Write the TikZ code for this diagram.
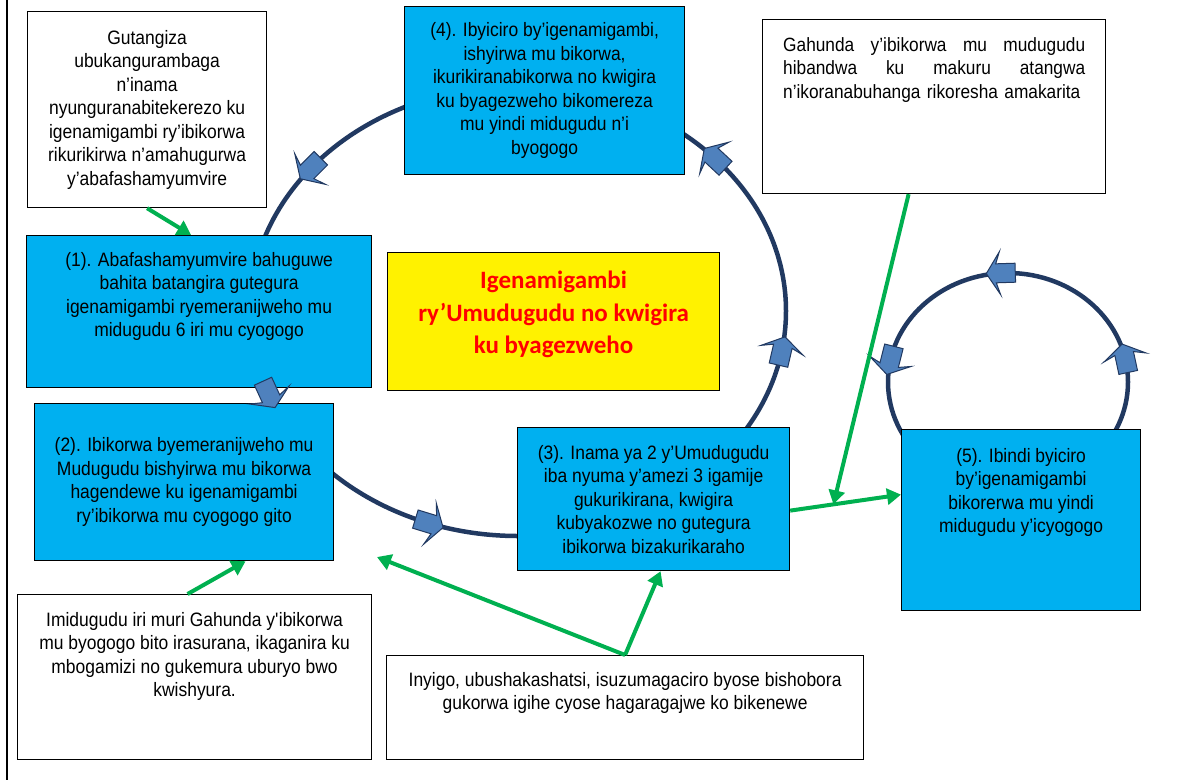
\documentclass[tikz,border=0pt]{standalone}
\usepackage{fontspec}
\setmainfont{Liberation Sans}[FakeStretch=0.9]
\newfontfamily\titlefont{Carlito}
\usepackage{tikz}
\usetikzlibrary{shapes.arrows, arrows.meta, calc}

\definecolor{boxblue}{RGB}{0,176,240}
\definecolor{ringnavy}{RGB}{33,57,97}
\definecolor{arrowfill}{RGB}{79,129,189}
\definecolor{linkgreen}{RGB}{0,176,80}
\definecolor{titlered}{RGB}{255,0,0}

\begin{document}
\begin{tikzpicture}[
            x=1pt, y=-1pt,
            box/.style={draw=black, line width=1.2pt, anchor=north west, inner sep=0pt},
            bluebox/.style={box, fill=boxblue},
            whitebox/.style={box, fill=white},
            txt/.style={align=center, inner sep=0pt, font=\fontsize{19.4}{23.5}\selectfont},
            ringline/.style={draw=ringnavy, line width=4.5pt},
            ringarrow/.style={single arrow, draw=ringnavy, fill=arrowfill, line width=1pt,
                minimum height=29pt, minimum width=42pt, single arrow head extend=12pt,
                single arrow tip angle=115, single arrow head indent=4pt,
                inner xsep=0pt, inner ysep=9pt},
            link/.style={draw=linkgreen, line width=4pt, -{Triangle[length=14pt,width=16pt]}}
        ]
            \useasboundingbox (0,0) rectangle (1178,780);

            % Rings
            \draw[ringline] (518,311) ellipse [x radius=268, y radius=225];
            \draw[ringline] (1008,382) ellipse [x radius=120, y radius=109];

            % Side boxes
            \node[whitebox, txt, minimum width=239, minimum height=196] (bA) at (27,11)
                {Gutangiza\\ubukangurambaga\\n’inama\\nyunguranabitekerezo ku\\igenamigambi ry’ibikorwa\\rikurikirwa n’amahugurwa\\y’abafashamyumvire};

            \node[whitebox, minimum width=343, minimum height=174] (bG) at (762,19) {};
            \node[anchor=north west, align=left, text width=302pt, inner sep=0pt,
                  font=\fontsize{19.2}{23.5}\selectfont] (bGt) at ([xshift=21pt,yshift=-18pt]bG.north west)
                {Gahunda\hfill y’ibikorwa\hfill mu\hfill mudugudu\\
                 hibandwa\hfill ku\hfill makuru\hfill atangwa\\
                 \mbox{n’ikoranabuhanga rikoresha amakarita}};

            \node[whitebox, minimum width=354, minimum height=165] (bI) at (17,594) {};
            \node[txt, anchor=north] (bIt) at ([yshift=-18pt]bI.north)
                {Imidugudu iri muri Gahunda y\textquotesingle ibikorwa\\mu byogogo bito irasurana, ikaganira ku\\mbogamizi no gukemura uburyo bwo\\kwishyura.};

            \node[whitebox, minimum width=477, minimum height=104] (bJ) at (386,655) {};
            \node[txt, anchor=north] (bJt) at ([yshift=-17pt]bJ.north)
                {Inyigo, ubushakashatsi, isuzumagaciro byose bishobora\\gukorwa igihe cyose hagaragajwe ko bikenewe};

            % Steps
            \node[bluebox, minimum width=345, minimum height=152] (b1) at (26,235) {};
            \node[txt, anchor=north] (b1t) at ([yshift=-17pt]b1.north)
                {(1). Abafashamyumvire bahuguwe\\bahita batangira gutegura\\igenamigambi ryemeranijweho mu\\midugudu 6 iri mu cyogogo};

            \node[bluebox, txt, minimum width=299, minimum height=157] (b2) at (34,403)
                {(2). Ibikorwa byemeranijweho mu\\Mudugudu bishyirwa mu bikorwa\\hagendewe ku igenamigambi\\ry’ibikorwa mu cyogogo gito};

            \node[bluebox, txt, minimum width=272, minimum height=143] (b3) at (517,427)
                {(3). Inama ya 2 y’Umudugudu\\iba nyuma y’amezi 3 igamije\\gukurikirana, kwigira\\kubyakozwe no gutegura\\ibikorwa bizakurikaraho};

            \node[bluebox, txt, minimum width=280, minimum height=168] (b4) at (404,6)
                {(4). Ibyiciro by’igenamigambi,\\ishyirwa mu bikorwa,\\ikurikiranabikorwa no kwigira\\ku byagezweho bikomereza\\mu yindi midugudu n’i\\byogogo};

            \node[bluebox, minimum width=239, minimum height=181] (b5) at (901,429) {};
            \node[txt, anchor=north] (b5t) at ([yshift=-19pt]b5.north)
                {(5). Ibindi byiciro\\by’igenamigambi\\bikorerwa mu yindi\\midugudu y’icyogogo};

            % Title
            \node[box, fill=yellow, minimum width=332, minimum height=138] (title) at (387,252) {};
            \node[align=center, inner sep=0pt, text=titlered,
                  font=\titlefont\bfseries\fontsize{25}{32.5}\selectfont] (titlet) at ([yshift=7pt]title.center)
                {Igenamigambi\\ry’Umudugudu no kwigira\\ku byagezweho};

            % Ring arrows
            \foreach \t in {42,140,201,250,349} {
                \pgfmathsetmacro\ang{atan2(225*cos(\t),-268*sin(\t))}
                \node[ringarrow, rotate=\ang] (ra\t) at ({518+268*cos(\t)},{311-225*sin(\t)}) {};
            }
            \foreach \t in {11,92,167} {
                \pgfmathsetmacro\ang{atan2(109*cos(\t),-120*sin(\t))}
                \node[ringarrow, rotate=\ang] (rb\t) at ({1008+120*cos(\t)},{382-109*sin(\t)}) {};
            }

            % Links
            \coordinate (g3end) at (377,557);
            \coordinate (g6a) at ([yshift=-11.5pt]b3.east);
            \coordinate (g6b) at ([yshift=25.5pt]b5.west);
            \coordinate (g5end) at ($(g6a)!0.39!(g6b)$);
            \draw[link] (bA.south) -- ([xshift=-8pt]b1.north);
            \draw[link] ([xshift=-7pt]bI.north) -- ([xshift=61.5pt]b2.south);
            \draw[link] (bJ.north) -- (g3end);
            \draw[link] (bJ.north) -- ([xshift=7pt]b3.south);
            \draw[link] (g6a) -- (g6b);
            \draw[link] ([xshift=-25.5pt]bG.south) -- (g5end);

            % Frame
            \draw[line width=1.5pt] (7,0) -- (7,780);
        \end{tikzpicture}
\end{document}
